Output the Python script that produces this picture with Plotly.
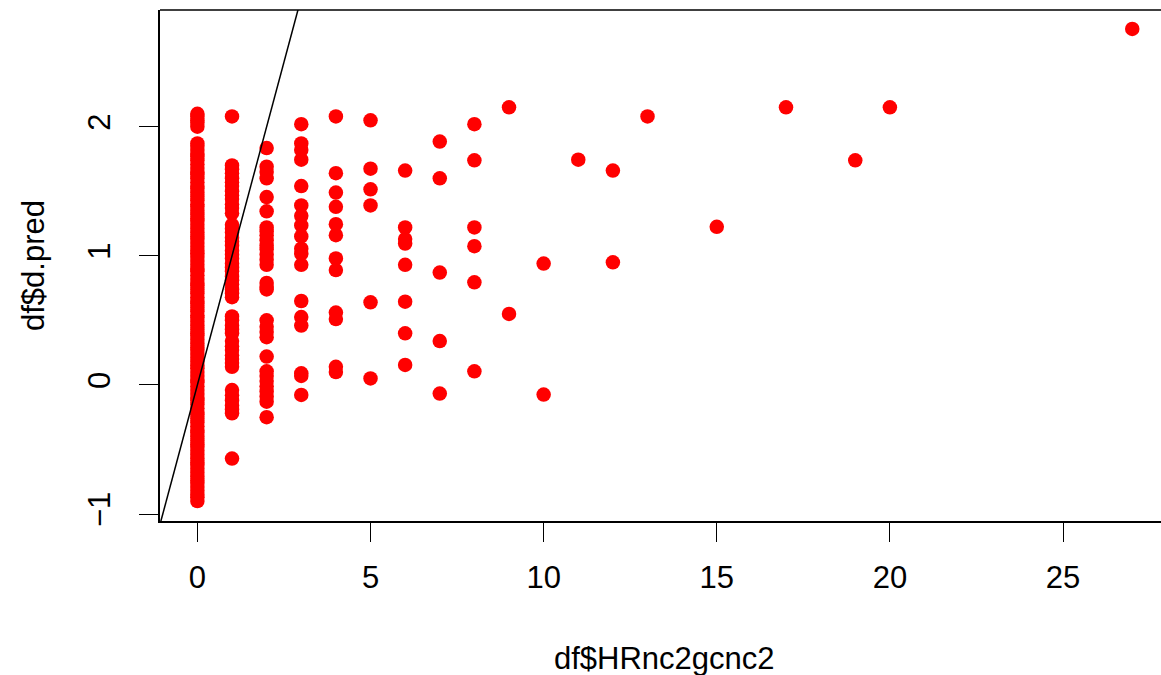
import plotly.graph_objects as go

x0_vals = [-0.90, -0.87, -0.85, -0.82, -0.79, -0.76, -0.74, -0.71, -0.68, -0.65,
           -0.62, -0.60, -0.57, -0.54, -0.51, -0.48, -0.46, -0.43, -0.40, -0.37,
           -0.35, -0.32, -0.29, -0.26, -0.23, -0.21, -0.18, -0.15, -0.12, -0.10,
           -0.07, -0.04, -0.01, 0.02, 0.04, 0.07, 0.10, 0.13, 0.15, 0.18,
           0.21, 0.24, 0.27, 0.29, 0.32, 0.35, 0.38, 0.40, 0.43, 0.46,
           0.49, 0.52, 0.54, 0.57, 0.60, 0.63, 0.65, 0.68, 0.71, 0.74,
           0.77, 0.79, 0.82, 0.85, 0.88, 0.90, 0.93, 0.96, 0.99, 1.02,
           1.04, 1.07, 1.10, 1.13, 1.15, 1.18, 1.21, 1.24, 1.27, 1.29,
           1.32, 1.35, 1.38, 1.40, 1.43, 1.46, 1.49, 1.52, 1.54, 1.57,
           1.60, 1.63, 1.65, 1.68, 1.71, 1.74, 1.77, 1.79, 1.82, 1.85, 1.87,
           2.00, 2.03, 2.05, 2.08, 2.10]
x1_vals = [2.08, 1.70, 1.67, 1.64, 1.60, 1.57, 1.54, 1.50, 1.47, 1.44, 1.40,
           1.37, 1.33, 1.24, 1.21, 1.18, 1.14, 1.11, 1.08, 1.04, 1.01, 0.98,
           0.94, 0.91, 0.88, 0.84, 0.81, 0.78, 0.74, 0.71, 0.68,
           0.53, 0.50, 0.46, 0.43, 0.40, 0.34, 0.30, 0.27, 0.23, 0.20, 0.17, 0.14,
           -0.04, -0.08, -0.12, -0.16, -0.19, -0.22, -0.57]
x2_vals = [1.835, 1.69, 1.65, 1.60, 1.455, 1.345, 1.22, 1.19, 1.16, 1.12, 1.08,
           1.05, 1.01, 0.97, 0.93, 0.79, 0.76, 0.74, 0.50, 0.45, 0.41, 0.37,
           0.22, 0.105, 0.07, 0.03, -0.01, -0.05, -0.09, -0.13, -0.25]
x3_vals = [2.02, 1.87, 1.82, 1.745, 1.54, 1.39, 1.31, 1.235, 1.15, 1.055, 1.017,
           0.93, 0.65, 0.526, 0.46, 0.09, 0.07, -0.078]
x4_vals = [2.08, 1.64, 1.49, 1.38, 1.245, 1.16, 0.98, 0.89, 0.56, 0.51, 0.14, 0.10]
x5_vals = [2.05, 1.675, 1.515, 1.39, 0.64, 0.05]
x6_vals = [1.66, 1.22, 1.13, 1.095, 0.93, 0.645, 0.40, 0.155]
x7_vals = [1.885, 1.60, 0.87, 0.34, -0.067]
x8_vals = [2.02, 1.74, 1.22, 1.075, 0.795, 0.105]
x9_vals = [2.15, 0.55]
x10_vals = [0.94, -0.075]
rest_x = [11, 12, 12, 13, 15, 17, 19, 20, 27]
rest_y = [1.745, 1.66, 0.95, 2.08, 1.225, 2.15, 1.74, 2.15, 2.757]

groups = [(0, x0_vals), (1, x1_vals), (2, x2_vals), (3, x3_vals), (4, x4_vals),
          (5, x5_vals), (6, x6_vals), (7, x7_vals), (8, x8_vals), (9, x9_vals),
          (10, x10_vals)]
xs, ys = [], []
for gx, vals in groups:
    xs += [gx] * len(vals)
    ys += vals
xs += rest_x
ys += rest_y

x_ticks = [0, 5, 10, 15, 20, 25]
y_ticks = [-1, 0, 1, 2]
x_range = [-1.08, 27.83]
y_range = [-1.054, 2.904]

# abline(0, 1)
ab_intercept, ab_slope = 0.0, 1.0
ab_x = [x_range[0] - 1, x_range[1]]
ab_y = [ab_intercept + ab_slope * v for v in ab_x]

FONT = "Liberation Sans, Arial, Helvetica, sans-serif"
FS = 31

fig = go.Figure()
fig.add_trace(go.Scatter(x=xs, y=ys, mode="markers",
                         marker=dict(color="#FF0000", size=14.5, line=dict(width=0)),
                         showlegend=False, hoverinfo="x+y"))
fig.add_trace(go.Scatter(x=ab_x, y=ab_y, mode="lines",
                         line=dict(color="black", width=1.5),
                         showlegend=False, hoverinfo="skip"))

fig.update_layout(
    width=1161, height=675,
    margin=dict(l=160, r=0, t=10, b=154, pad=0),
    paper_bgcolor="white", plot_bgcolor="white",
    font=dict(family=FONT, size=FS, color="black"),
    xaxis=dict(range=x_range, tickmode="array", tickvals=x_ticks,
               ticks="outside", ticklen=19, tickwidth=1.3, tickcolor="black",
               showline=True, linecolor="black", linewidth=1.6,
               showgrid=False, zeroline=False, ticklabelstandoff=9,
               tickfont=dict(family=FONT, size=FS)),
    yaxis=dict(range=y_range, tickmode="array", tickvals=y_ticks,
               ticks="outside", ticklen=19, tickwidth=1.3, tickcolor="black",
               showline=True, linecolor="black", linewidth=1.6,
               showgrid=False, zeroline=False, tickangle=-90,
               ticklabelstandoff=17,
               tickfont=dict(family=FONT, size=FS)),
    shapes=[dict(type="line", xref="paper", yref="paper", x0=0, x1=1, y0=1, y1=1,
                 line=dict(color="black", width=1.6))],
    annotations=[
        dict(text="df$HRnc2gcnc2", xref="paper", yref="paper",
             x=(664 - 160) / 1001, y=(521 - 658) / 511,
             xanchor="center", yanchor="middle", showarrow=False,
             font=dict(family=FONT, size=FS)),
        dict(text="df$d.pred", xref="paper", yref="paper",
             x=(33 - 160) / 1001, y=(521 - 266) / 511, textangle=-90,
             xanchor="center", yanchor="middle", showarrow=False,
             font=dict(family=FONT, size=FS)),
    ],
)

fig.write_html("out.html")
